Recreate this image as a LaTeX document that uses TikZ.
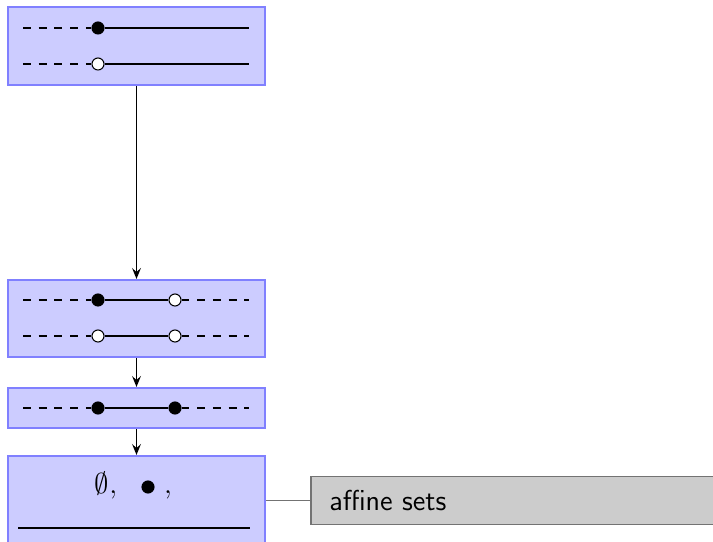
\documentclass[tikz,border=0pt]{standalone}
\usetikzlibrary{arrows.meta}
\newcommand\pxu{0.382pt}
\tikzset{
  intervalbox/.style={draw=blue!50, fill=blue!20, line width=0.8pt, minimum width=257*\pxu, inner sep=0pt},
  labelbox/.style={draw=black!55, fill=gray!40, line width=0.6pt, inner sep=0pt},
  closedpt/.style={circle, fill=black, draw=black, line width=0.4pt, minimum size=4.6pt, inner sep=0pt},
  openpt/.style={circle, fill=white, draw=black, line width=0.4pt, minimum size=4.6pt, inner sep=0pt},
  ray/.style={line width=0.45pt},
  farray/.style={ray, dashed},
  flow/.style={-{Stealth[length=4.2pt, width=3.4pt, inset=1.6pt]}, line width=0.45pt},
  tag/.style={font=\fontsize{11}{13}\sffamily\selectfont},
  mathtext/.style={font=\fontsize{11}{13}\selectfont, inner sep=0pt, anchor=base},
}
\begin{document}
\begin{tikzpicture}[x=\pxu, y=-\pxu]
\useasboundingbox (0,0) rectangle (713,542);
\clip (0,0) rectangle (713,542);

% boxes
\node[intervalbox, minimum height=78*\pxu] (b1) at (136.5,46) {};
\node[intervalbox, minimum height=77*\pxu] (b2) at (136.5,318.5) {};
\node[intervalbox, minimum height=40*\pxu] (b3) at (136.5,408) {};
\node[intervalbox, minimum height=92*\pxu] (b4) at (136.5,502) {};

% rays: closed and open left end
\node[closedpt] (p1) at (98,28) {};
\coordinate (p1l) at (23,28); \coordinate (p1r) at (249,28);
\draw[farray] (p1l) -- (p1); \draw[ray] (p1) -- (p1r);
\node[openpt] (p2) at (98,64) {};
\coordinate (p2l) at (23,64); \coordinate (p2r) at (249,64);
\draw[farray] (p2l) -- (p2); \draw[ray] (p2) -- (p2r);

% half-open and open intervals
\node[closedpt] (q1) at (98,300) {};
\node[openpt] (q2) at (175,300) {};
\coordinate (q1l) at (23,300); \coordinate (q2r) at (249,300);
\draw[farray] (q1l) -- (q1); \draw[ray] (q1) -- (q2); \draw[farray] (q2) -- (q2r);
\node[openpt] (r1) at (98,336) {};
\node[openpt] (r2) at (175,336) {};
\coordinate (r1l) at (23,336); \coordinate (r2r) at (249,336);
\draw[farray] (r1l) -- (r1); \draw[ray] (r1) -- (r2); \draw[farray] (r2) -- (r2r);

% closed interval
\node[closedpt] (s1) at (98,408) {};
\node[closedpt] (s2) at (175,408) {};
\coordinate (s1l) at (23,408); \coordinate (s2r) at (249,408);
\draw[farray] (s1l) -- (s1); \draw[ray] (s1) -- (s2); \draw[farray] (s2) -- (s2r);

% affine sets: empty set, point, whole line
\node[mathtext] (es) at (106,494) {$\emptyset$,};
\node[closedpt] (pt) at (148,487) {};
\node[mathtext] (cm) at (168,494) {,};
\coordinate (ll) at (18,528); \coordinate (lr) at (250,528);
\draw[ray] (ll) -- (lr);

% flow arrows
\draw[flow] (b1.south) -- (b2.north);
\draw[flow] (b2.south) -- (b3.north);
\draw[flow] (b3.south) -- (b4.north);

% label
\node[labelbox, minimum width=410*\pxu, minimum height=48*\pxu, anchor=west] (lab) at (310,500.5) {};
\node[tag, anchor=west] (labtext) at (320,500.5) {affine sets};
\draw[black!55, line width=0.6pt] (b4.east |- lab.west) -- (lab.west);
\end{tikzpicture}
\end{document}
